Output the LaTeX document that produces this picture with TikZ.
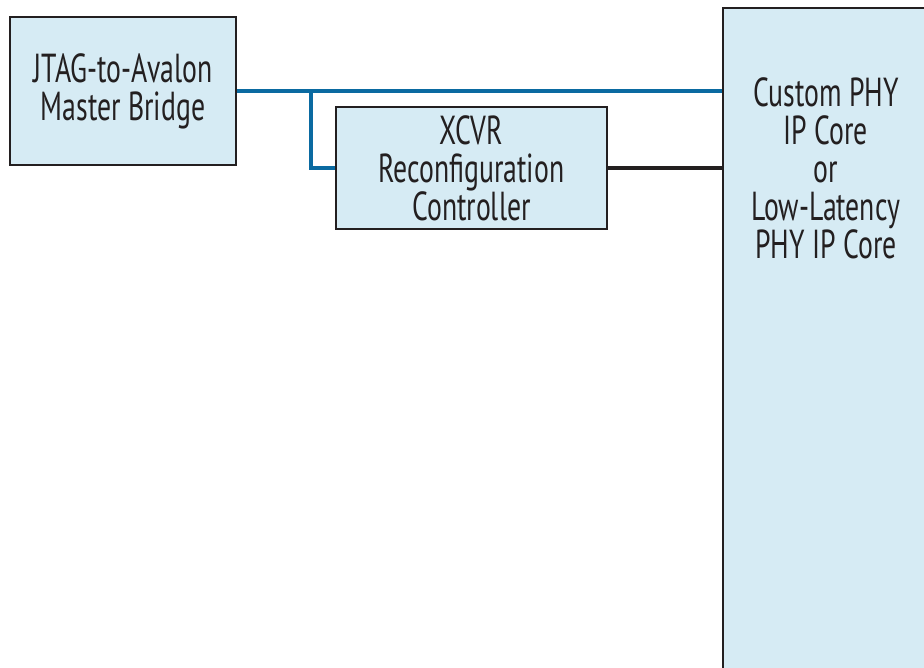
\documentclass[tikz,border=0pt]{standalone}
\usepackage{fontspec}
\setmainfont[FakeStretch=0.685]{PT Sans}
\usepackage{tikz}
\usetikzlibrary{positioning}

\definecolor{panelfill}{RGB}{214,235,244}
\definecolor{busblue}{RGB}{10,106,161}
\definecolor{ink}{RGB}{35,31,32}

\begin{document}
\begin{tikzpicture}[x=1pt, y=-1pt,
  block/.style={draw=ink, line width=1.8pt, fill=panelfill, inner sep=0pt,
    align=center, text=ink, font=\fontsize{40.5}{38}\selectfont},
  caption/.style={inner sep=0pt, align=center, text=ink,
    font=\fontsize{40.5}{38}\selectfont},
  bus/.style={draw=busblue, line width=3.6pt},
  link/.style={draw=ink, line width=3.6pt}]

  % Fix the page to the size of the drawing and cut off the big block.
  \useasboundingbox (0,0) rectangle (924,668);
  \clip (0,0) rectangle (924,668);

  % Place the bridge and the controller.
  \node [block, minimum width=226pt, minimum height=148pt] (jtag) at (123,91)
    {JTAG-to-Avalon\\Master Bridge};
  \node [block, minimum width=271pt, minimum height=122pt] (xcvr) at (471.5,168)
    {XCVR\\Reconfiguration\\Controller};

  % Place the PHY block, it runs off the page.
  \node [block, anchor=north west, minimum width=206pt, minimum height=700pt] (phy) at (722,7) {};
  \node [caption, below=70pt of phy.north] (phy-text)
    {Custom PHY\\IP Core\\or\\Low-Latency\\PHY IP Core};

  % Avalon bus from the bridge, with a tap down to the controller.
  \coordinate (bus-tap) at (311,91);
  \draw [bus] (jtag.east) -- (jtag.east -| phy.west);
  \draw [bus] (bus-tap) |- (xcvr.west);

  % Reconfiguration link to the PHY.
  \draw [link] (xcvr.east) -- (xcvr.east -| phy.west);

\end{tikzpicture}
\end{document}
